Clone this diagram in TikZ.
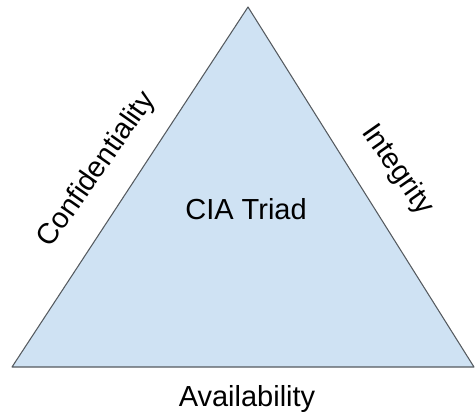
\documentclass[tikz,border=0pt]{standalone}
\usepackage{fontspec}
\setmainfont{Liberation Sans}
\usepackage{tikz}
\definecolor{lblue}{RGB}{207,226,243}
\definecolor{dgrey}{RGB}{85,90,95}

\begin{document}
\begin{tikzpicture}[x=0.02cm,y=-0.02cm,label/.style={font=\fontsize{16.5}{19}\selectfont,text=black,inner sep=0pt},side/.style={draw=dgrey,fill=lblue,line width=0.6pt,line join=round}]
  \useasboundingbox (0,0) rectangle (476,416);
  \coordinate (top) at (248,7);
  \coordinate (left) at (12,367);
  \coordinate (right) at (474,367);
  \filldraw [side] (top) -- (right) -- (left) -- cycle;
  \node [label] (triad) at (246,209) {CIA Triad};
  \node [label,rotate=55] (conf) at (97,170) {Confidentiality};
  \node [label,rotate=-55] (integ) at (397,170) {Integrity};
  \node [label] (avail) at (247,399) {Availability};
\end{tikzpicture}
\end{document}
